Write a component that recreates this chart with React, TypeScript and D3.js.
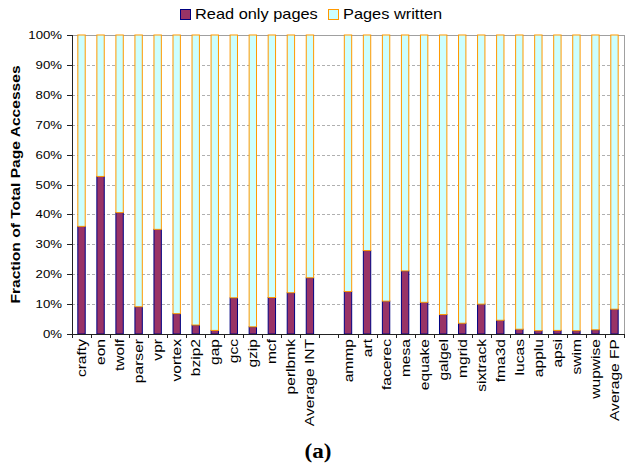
import React from "react";
import * as d3 from "d3";

// Benchmarks, with an empty slot separating the INT and FP suites
const categories = [
  "crafty", "eon", "twolf", "parser", "vpr", "vortex", "bzip2", "gap", "gcc", "gzip",
  "mcf", "perlbmk", "Average INT", "",
  "ammp", "art", "facerec", "mesa", "equake", "galgel", "mgrid", "sixtrack", "fma3d",
  "lucas", "applu", "apsi", "swim", "wupwise", "Average FP",
];

// Share of page accesses that hit read-only pages (%); null = empty slot
const readOnly: (number | null)[] = [
  36.0, 52.7, 40.6, 9.1, 35.0, 6.8, 3.0, 1.2, 12.1, 2.4,
  12.2, 13.8, 18.8, null,
  14.2, 27.9, 11.0, 21.1, 10.6, 6.5, 3.6, 10.0, 4.6,
  1.6, 1.1, 1.2, 1.1, 1.4, 8.3,
];

const seriesNames = ["Read only pages", "Pages written"];
const yTicks = [0, 10, 20, 30, 40, 50, 60, 70, 80, 90, 100];

const W = 625;
const H = 468;
const M = { left: 72, right: 624, top: 35, bottom: 334 };
const STRETCH = 1.2;
const FONT = "Arial, 'Liberation Sans', sans-serif";

const COLORS = {
  readFill: "#993366",
  readStroke: "#000080",
  writeFill: "#CCFFFF",
  writeStroke: "#FF9900",
};

export default function App() {
  const keys = categories.map((c, i) => (c === "" ? `__gap${i}` : c));
  const x = d3
    .scaleBand<string>()
    .domain(keys)
    .range([M.left, M.right])
    .paddingInner(0.56)
    .paddingOuter(0.28);
  const y = d3.scaleLinear().domain([0, 100]).range([M.bottom, M.top]);
  const step = x.step();
  const bw = x.bandwidth();

  const stacked = d3
    .stack<{ key: string; read: number; write: number }>()
    .keys(["read", "write"])(
    keys
      .map((k, i) => ({ key: k, v: readOnly[i] }))
      .filter((d) => d.v !== null)
      .map((d) => ({ key: d.key, read: d.v as number, write: 100 - (d.v as number) }))
  );

  // category separators on the x axis: one at every slot edge
  const boundaries = d3.range(keys.length + 1).map((i) => M.left + i * step);

  return (
    <svg
      width={W}
      height={H}
      style={{ position: "absolute", left: 0, top: 0, background: "#fff" }}
      fontFamily={FONT}
    >
      {/* legend */}
      <g>
        <rect x={180.5} y={9.5} width={10} height={10} fill={COLORS.readFill} stroke={COLORS.readStroke} />
        <text transform={`translate(195,19) scale(1.17,1)`} fontSize={14} fill="#000">
          {seriesNames[0]}
        </text>
        <rect x={328.5} y={9.5} width={10} height={10} fill={COLORS.writeFill} stroke={COLORS.writeStroke} />
        <text transform={`translate(343,19) scale(1.17,1)`} fontSize={14} fill="#000">
          {seriesNames[1]}
        </text>
      </g>

      {/* gridlines and plot frame */}
      {yTicks.filter((t) => t > 0 && t < 100).map((t) => (
        <line
          key={`g${t}`}
          x1={M.left}
          x2={M.right}
          y1={Math.round(y(t)) + 0.5}
          y2={Math.round(y(t)) + 0.5}
          stroke="#b0b0b0"
          strokeDasharray="3,2"
        />
      ))}
      <line x1={M.left} x2={M.right} y1={M.top + 0.5} y2={M.top + 0.5} stroke="#a0a0a0" />
      <line x1={M.right + 0.5} x2={M.right + 0.5} y1={M.top} y2={M.bottom} stroke="#a0a0a0" />

      {/* stacked bars */}
      {stacked.map((layer, li) =>
        layer.map((d) => (
          <rect
            key={`${li}-${d.data.key}`}
            x={(x(d.data.key) as number) + 0.5}
            y={y(d[1])}
            width={bw - 1}
            height={y(d[0]) - y(d[1])}
            fill={li === 0 ? COLORS.readFill : COLORS.writeFill}
            stroke={li === 0 ? COLORS.readStroke : COLORS.writeStroke}
            strokeWidth={1}
          />
        ))
      )}

      {/* y axis */}
      <line x1={M.left + 0.5} x2={M.left + 0.5} y1={M.top} y2={M.bottom} stroke="#222" />
      {yTicks.map((t) => (
        <g key={`yt${t}`}>
          <line x1={M.left - 5} x2={M.left} y1={Math.round(y(t)) + 0.5} y2={Math.round(y(t)) + 0.5} stroke="#222" />
          <text
            transform={`translate(62,${y(t) + 4}) scale(${STRETCH},1)`}
            fontSize={11}
            textAnchor="end"
            fill="#000"
          >
            {`${t}%`}
          </text>
        </g>
      ))}
      <text
        transform={`translate(20,${(M.top + M.bottom) / 2}) rotate(-90) scale(${STRETCH},1)`}
        fontSize={13}
        fontWeight="bold"
        textAnchor="middle"
        fill="#000"
      >
        Fraction of Total Page Accesses
      </text>

      {/* x axis */}
      <line x1={M.left} x2={M.right} y1={M.bottom + 0.5} y2={M.bottom + 0.5} stroke="#222" />
      {boundaries.map((bx, i) => (
        <line key={`xt${i}`} x1={Math.round(bx) + 0.5} x2={Math.round(bx) + 0.5} y1={M.bottom} y2={M.bottom + 4} stroke="#222" />
      ))}
      {keys.map((k, i) =>
        categories[i] === "" ? null : (
          <text
            key={`xl${k}`}
            transform={`translate(${(x(k) as number) + bw / 2 + 4.5},339) rotate(-90) scale(${STRETCH},1)`}
            fontSize={13}
            textAnchor="end"
            fill="#000"
          >
            {categories[i]}
          </text>
        )
      )}

      {/* caption */}
      <text
        transform={`translate(318,458) scale(1.1,1)`}
        fontSize={21}
        fontWeight="bold"
        fontFamily="'Liberation Serif', 'Times New Roman', serif"
        textAnchor="middle"
        fill="#000"
      >
        (a)
      </text>
    </svg>
  );
}
